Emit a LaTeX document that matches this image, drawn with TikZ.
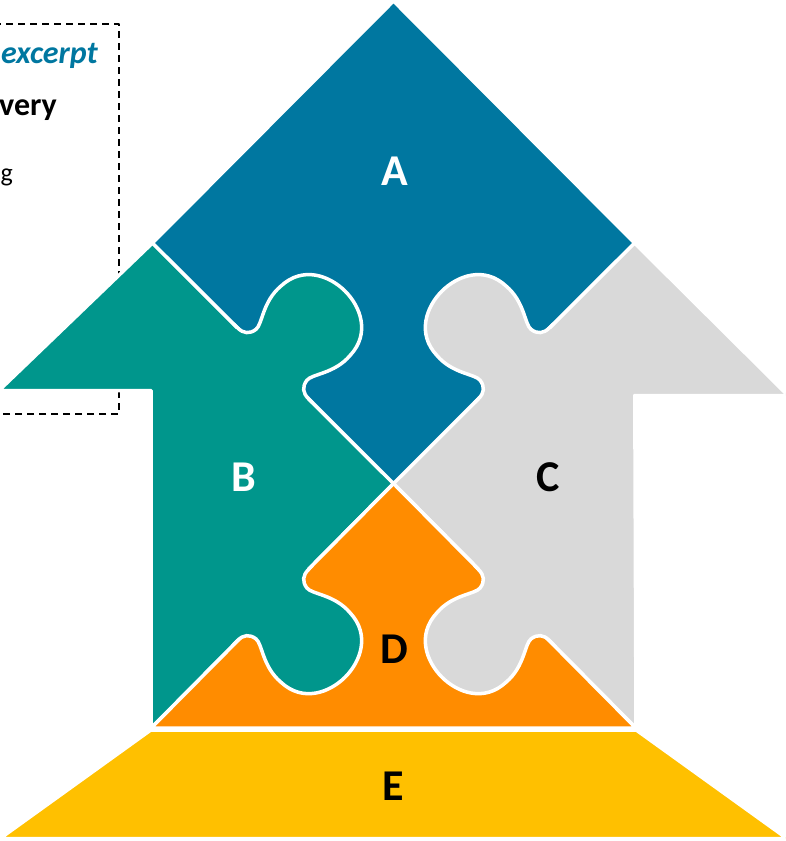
\documentclass[tikz,border=0pt]{standalone}
\usepackage{fontspec}
\setmainfont{Carlito}
\definecolor{cA}{HTML}{0077A0}
\definecolor{cB}{HTML}{00968C}
\definecolor{cC}{HTML}{D9D9D9}
\definecolor{cD}{HTML}{FF8C00}
\definecolor{cE}{HTML}{FFC000}
\newcommand\knob[4]{%
  \begin{scope}[shift={(#2)}, x={#3}, y={#4}]
    \fill[#1] (-50,-2.5) -- (-50,0) .. controls (-42,0) and (-37,4) .. (-36,12)
      .. controls (-35,20) and (-51,36) .. (-49,60)
      .. controls (-48,90) and (-22,102) .. (0,102)
      .. controls (22,102) and (48,90) .. (49,60)
      .. controls (51,36) and (35,20) .. (36,12)
      .. controls (37,4) and (42,0) .. (50,0) -- (50,-2.5) -- cycle;
    \draw[white, line width=3.5pt] (-56,0) -- (-50,0) .. controls (-42,0) and (-37,4) .. (-36,12)
      .. controls (-35,20) and (-51,36) .. (-49,60)
      .. controls (-48,90) and (-22,102) .. (0,102)
      .. controls (22,102) and (48,90) .. (49,60)
      .. controls (51,36) and (35,20) .. (36,12)
      .. controls (37,4) and (42,0) .. (50,0) -- (56,0);
  \end{scope}}
\begin{document}
\begin{tikzpicture}[x=1pt, y=-1pt, line join=round,
  piece/.style={draw=white, line width=3.5pt},
  lbl/.style={font=\bfseries\fontsize{44}{44}\selectfont, inner sep=0pt}]
\useasboundingbox (0,0) rectangle (785,841);
\clip (0,0) rectangle (785,841);
% excerpt box
\draw[line width=1.4pt, dash pattern=on 7pt off 5pt] (-30,24) -- (119,24) -- (119,414) -- (-30,414);
\node[anchor=base east, inner sep=0pt, text=cA, font=\bfseries\itshape\fontsize{32}{32}\selectfont] (t1) at (98,63) {excerpt};
\node[anchor=base east, inner sep=0pt, font=\bfseries\fontsize{32}{32}\selectfont] (t2) at (57,115) {very};
\node[anchor=base west, inner sep=0pt, font=\fontsize{26}{26}\selectfont] (t3) at (0.5,181) {g};
% key points
\coordinate (T) at (393.5,1);
\coordinate (L) at (152.5,243);
\coordinate (R) at (634.5,243);
\coordinate (O) at (393.5,483.5);
\coordinate (DL) at (151,728.2);
\coordinate (DR) at (636,728.2);
\coordinate (BT) at (-1,390.5);
\coordinate (BN) at (151.2,390.5);
\coordinate (CT) at (788,395.5);
\coordinate (CN) at (634.8,395.5);
\coordinate (ETL) at (150.5,730.2);
\coordinate (ETR) at (636.5,730.2);
\coordinate (EBR) at (787,838.5);
\coordinate (EBL) at (0,838.5);
\coordinate (M1) at (273,363.25);
\coordinate (M2) at (514,363.25);
\coordinate (M3) at (273,605);
\coordinate (M4) at (514,605);
% pieces
\filldraw[piece, fill=cB] (L) -- (O) -- (DL) -- (BN) -- (BT) -- cycle;
\filldraw[piece, fill=cC] (R) -- (CT) -- (CN) -- (DR) -- (O) -- cycle;
\filldraw[piece, fill=cA] (T) -- (R) -- (O) -- (L) -- cycle;
\filldraw[piece, fill=cD] (O) -- (DR) -- (DL) -- cycle;
\filldraw[piece, fill=cE] (ETL) -- (ETR) -- (EBR) -- (EBL) -- cycle;
% knobs
\knob{cB}{M1}{(0.7071pt,-0.7071pt)}{(0.7071pt,0.7071pt)}
\knob{cC}{M2}{(-0.7071pt,-0.7071pt)}{(-0.7071pt,0.7071pt)}
\knob{cB}{M3}{(0.7071pt,0.7071pt)}{(0.7071pt,-0.7071pt)}
\knob{cC}{M4}{(-0.7071pt,0.7071pt)}{(-0.7071pt,-0.7071pt)}
% labels
\node[lbl, text=white] (la) at (395,171) {A};
\node[lbl, text=white] (lb) at (244,477) {B};
\node[lbl] (lc) at (548,477) {C};
\node[lbl] (ld) at (394,649) {D};
\node[lbl] (le) at (393,786) {E};
\end{tikzpicture}
\end{document}
